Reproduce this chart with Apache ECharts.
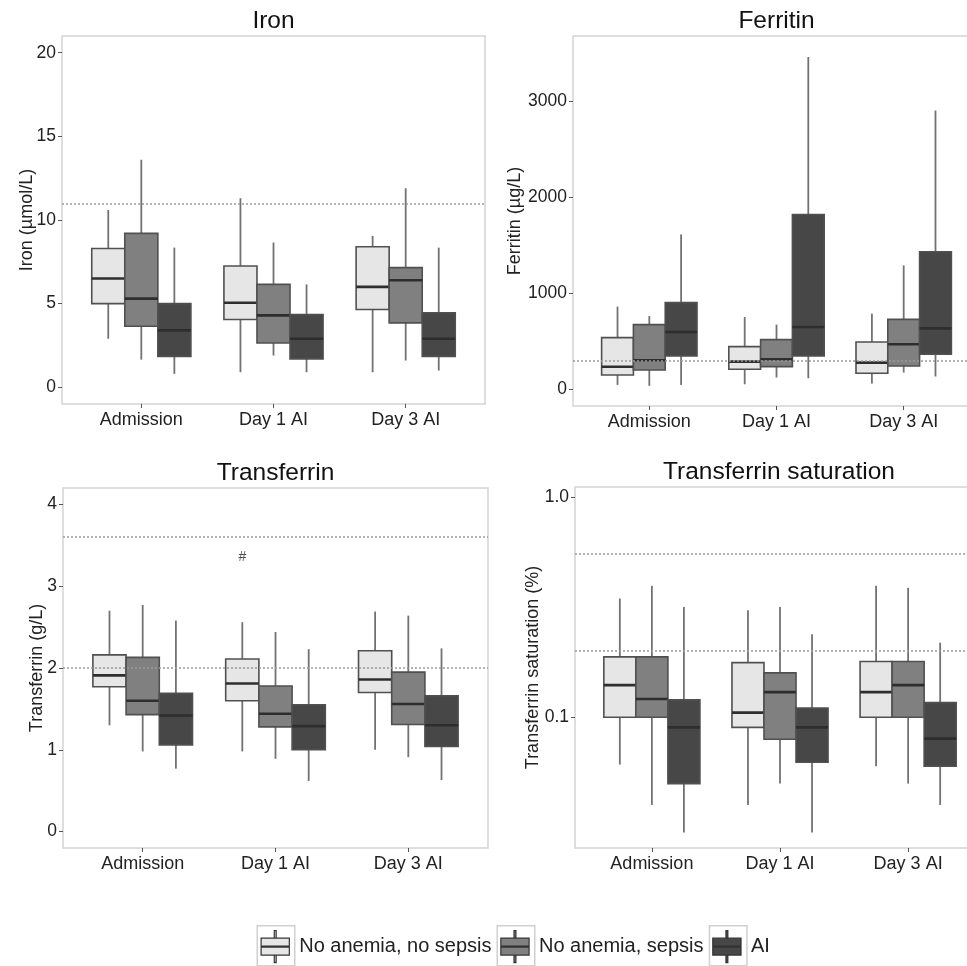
<!DOCTYPE html>
<html lang="en">
  <head>
    <meta charset="UTF-8" />
    <title>Iron parameters</title>
    <script src="https://cdn.jsdelivr.net/npm/echarts@6.0.0/dist/echarts.min.js"></script>
  </head>

  <body style="margin: 0; background: #fff">
    <div id="main" style="width: 967px; height: 966px"></div>

    <script type="text/javascript">
      // categories on the x axis and the three patient groups
      const categories = ["Admission", "Day 1 AI", "Day 3 AI"];
      const groups = ["No anemia, no sepsis", "No anemia, sepsis", "AI"];

      // each box: [lower whisker, Q1, median, Q3, upper whisker] per category
      const ironNoAnemiaNoSepsis = [[2.9, 5.0, 6.5, 8.3, 10.6], [0.9, 4.05, 5.05, 7.25, 11.3], [0.9, 4.65, 6.0, 8.4, 9.05]];
      const ironNoAnemiaSepsis = [[1.65, 3.65, 5.3, 9.2, 13.6], [1.9, 2.65, 4.3, 6.15, 8.65], [1.6, 3.85, 6.4, 7.15, 11.9]];
      const ironAI = [[0.8, 1.85, 3.4, 5.0, 8.35], [0.9, 1.7, 2.9, 4.35, 6.15], [1.0, 1.85, 2.9, 4.45, 8.35]];

      const ferritinNoAnemiaNoSepsis = [[45, 149, 235, 538, 862], [52, 208, 288, 444, 753], [59, 167, 278, 493, 788]];
      const ferritinNoAnemiaSepsis = [[35, 201, 302, 674, 764], [122, 236, 313, 517, 674], [174, 243, 469, 729, 1292]];
      const ferritinAI = [[45, 347, 597, 903, 1615], [115, 347, 649, 1823, 3465], [132, 365, 635, 1434, 2909]];

      const transferrinNoAnemiaNoSepsis = [[1.3, 1.77, 1.91, 2.16, 2.7], [0.98, 1.6, 1.81, 2.11, 2.56], [1.0, 1.7, 1.86, 2.21, 2.69]];
      const transferrinNoAnemiaSepsis = [[0.98, 1.43, 1.6, 2.13, 2.77], [0.89, 1.28, 1.44, 1.78, 2.44], [0.91, 1.31, 1.56, 1.95, 2.64]];
      const transferrinAI = [[0.77, 1.06, 1.42, 1.69, 2.58], [0.62, 1.0, 1.29, 1.55, 2.23], [0.63, 1.04, 1.3, 1.66, 2.24]];

      const saturationNoAnemiaNoSepsis = [[0.061, 0.1, 0.14, 0.188, 0.346], [0.04, 0.09, 0.105, 0.177, 0.306], [0.06, 0.1, 0.13, 0.179, 0.395]];
      const saturationNoAnemiaSepsis = [[0.04, 0.1, 0.121, 0.188, 0.395], [0.05, 0.0795, 0.13, 0.159, 0.317], [0.05, 0.1, 0.14, 0.179, 0.387]];
      const saturationAI = [[0.03, 0.05, 0.09, 0.12, 0.317], [0.03, 0.0625, 0.09, 0.11, 0.238], [0.04, 0.06, 0.08, 0.1165, 0.218]];

      // dotted reference lines
      const ironRef = [11];
      const ferritinRef = [300];
      const transferrinRef = [2.0, 3.6];
      const saturationRef = [0.2, 0.55];

      // tick labels
      const ironTicks = [0, 5, 10, 15, 20];
      const ferritinTicks = [0, 1000, 2000, 3000];
      const transferrinTicks = [0, 1, 2, 3, 4];
      const saturationTicks = [0.1, 1.0];

      // the "#" mark above the Day 1 no-anemia box in the transferrin panel
      const transferrinHash = [0.75, 3.35];

      const fills = ["#e6e6e6", "#808080", "#474747"];
      const font = "Liberation Sans, Arial, sans-serif";

      const panels = [
        { title: "Iron", name: "Iron (\u00b5mol/L)", data: [ironNoAnemiaNoSepsis, ironNoAnemiaSepsis, ironAI],
          refs: ironRef, ticks: ironTicks, min: -1, max: 21, type: "value", nameGap: 26,
          grid: { left: 62, top: 36, width: 423, height: 368 }, titlePos: [273.5, 9] },
        { title: "Ferritin", name: "Ferritin (\u00b5g/L)", data: [ferritinNoAnemiaNoSepsis, ferritinNoAnemiaSepsis, ferritinAI],
          refs: ferritinRef, ticks: ferritinTicks, min: -175, max: 3685, type: "value", nameGap: 49,
          grid: { left: 573, top: 36, width: 407, height: 370 }, titlePos: [776.5, 9] },
        { title: "Transferrin", name: "Transferrin (g/L)", data: [transferrinNoAnemiaNoSepsis, transferrinNoAnemiaSepsis, transferrinAI],
          refs: transferrinRef, ticks: transferrinTicks, min: -0.2, max: 4.2, type: "value", nameGap: 17,
          grid: { left: 63, top: 488, width: 425, height: 360 }, titlePos: [275.5, 461] },
        { title: "Transferrin saturation", name: "Transferrin saturation (%)", data: [saturationNoAnemiaNoSepsis, saturationNoAnemiaSepsis, saturationAI],
          refs: saturationRef, ticks: saturationTicks, min: 0.0255, max: 1.11, type: "log", nameGap: 33,
          grid: { left: 575, top: 487, width: 410, height: 361 }, titlePos: [779, 460] },
      ];

      // offset of each group's box inside a category (boxes touch, 0.25 wide)
      const boxWidth = 0.25;

      function makeRenderItem(g) {
        return function (params, api) {
          const x = api.value(0) + (g - 1) * boxWidth;
          const left = api.coord([x - boxWidth / 2, api.value(3)])[0];
          const right = api.coord([x + boxWidth / 2, api.value(3)])[0];
          const cx = api.coord([x, api.value(3)])[0];
          const low = api.coord([x, api.value(1)])[1];
          const q1 = api.coord([x, api.value(2)])[1];
          const med = api.coord([x, api.value(3)])[1];
          const q3 = api.coord([x, api.value(4)])[1];
          const high = api.coord([x, api.value(5)])[1];
          return {
            type: "group",
            children: [
              { type: "line", shape: { x1: cx, y1: high, x2: cx, y2: low }, style: { stroke: "#727272", lineWidth: 1.8 } },
              { type: "rect", shape: { x: left, y: q3, width: right - left, height: q1 - q3 },
                style: { fill: fills[g], stroke: "#505050", lineWidth: 1.6 } },
              { type: "line", shape: { x1: left, y1: med, x2: right, y2: med }, style: { stroke: "#2e2e2e", lineWidth: 2.6 } },
            ],
          };
        };
      }

      let grids = [], xAxes = [], yAxes = [], titles = [], series = [];

      panels.forEach((p, i) => {
        grids.push(Object.assign({ show: true, borderColor: "#d4d4d4", borderWidth: 1.5, backgroundColor: "#fff",
          containLabel: false, outerBoundsMode: "none" }, p.grid));
        titles.push({
          text: p.title, left: p.titlePos[0], top: p.titlePos[1], textAlign: "center", padding: 0,
          textStyle: { fontFamily: font, fontSize: 24.5, fontWeight: "normal", color: "#111" },
        });
        xAxes.push({
          gridIndex: i, type: "value", min: -0.6, max: 2.6,
          axisLine: { show: false, onZero: false }, splitLine: { show: false },
          axisTick: { show: true, length: 4, lineStyle: { color: "#555" }, customValues: [0, 1, 2] },
          axisLabel: { customValues: [0, 1, 2], formatter: (v) => categories[Math.round(v)],
            fontFamily: font, fontSize: 18, color: "#222", margin: 7 },
        });
        yAxes.push({
          gridIndex: i, type: p.type, min: p.min, max: p.max, logBase: 10,
          name: p.name, nameLocation: "middle", nameGap: p.nameGap, nameMoveOverlap: false,
          nameTextStyle: { fontFamily: font, fontSize: 18, color: "#222" },
          axisLine: { show: false, onZero: false }, splitLine: { show: false },
          axisTick: { show: true, length: 4, lineStyle: { color: "#555" }, customValues: p.ticks },
          axisLabel: { customValues: p.ticks, formatter: p.type === "log" ? (v) => v.toFixed(1) : (v) => String(v),
            fontFamily: font, fontSize: 17.5, color: "#222", margin: 6 },
        });
        p.data.forEach((arr, g) => {
          const s = {
            name: groups[g], type: "custom", xAxisIndex: i, yAxisIndex: i,
            itemStyle: { color: fills[g] },
            encode: { x: 0, y: [1, 2, 3, 4, 5] },
            renderItem: makeRenderItem(g),
            data: arr.map((d, k) => [k].concat(d)),
          };
          if (g === 0) {
            s.markLine = {
              silent: true, symbol: "none", label: { show: false },
              lineStyle: { type: [2, 2], color: "#9a9a9a", width: 1.5 },
              data: p.refs.map((v) => ({ yAxis: v })),
            };
          }
          series.push(s);
        });
      });

      series.push({
        type: "scatter", xAxisIndex: 2, yAxisIndex: 2, symbolSize: 1, itemStyle: { color: "transparent" },
        label: { show: true, position: "inside", formatter: "#", fontFamily: font, fontSize: 14, color: "#222" },
        data: [transferrinHash],
      });

      // light grey key frames behind the legend glyphs
      const keyFrames = [256.5, 496.5, 708.7].map((x) => ({
        type: "rect", left: x, top: 925, z: -1,
        shape: { width: 37.5, height: 40 },
        style: { fill: "#fff", stroke: "#d0d0d0", lineWidth: 1.5 },
      }));

      let options = {
        animation: false,
        backgroundColor: "#fff",
        title: titles,
        grid: grids,
        xAxis: xAxes,
        yAxis: yAxes,
        graphic: keyFrames,
        legend: {
          data: groups, left: 260.5, top: 930, padding: 0, itemWidth: 30, itemHeight: 32, itemGap: 8.7,
          icon: "path://M14,0h2v8h-2zM0,8h30v18h-30zM14,26h2v8h-2zM0,16.5h30v1h-30z",
          itemStyle: { borderColor: "#333", borderWidth: 1.2 },
          textStyle: { fontFamily: font, fontSize: 20, color: "#222", padding: [0, 0, 0, 4] },
        },
        series: series,
      };

      let myChart = echarts.init(document.getElementById("main"));
      myChart.setOption(options);
    </script>
  </body>
</html>
